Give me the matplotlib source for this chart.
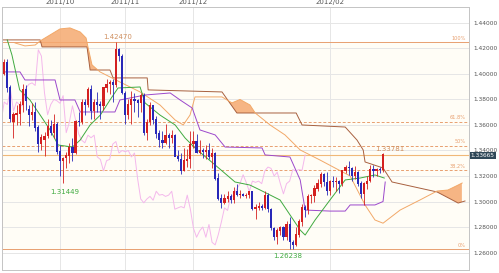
import numpy as np
import matplotlib
matplotlib.use("Agg")
import matplotlib.pyplot as plt

# daily candles, EUR/USD (bar index 0 = first visible day)
opens = [1.4000,1.4090,1.3890,1.3620,1.3680,1.3690,1.3760,1.3880,1.3720,1.3680,
         1.3700,1.3580,1.3450,1.3480,1.3510,1.3590,1.3540,1.3600,1.3390,1.3320,
         1.3340,1.3360,1.3420,1.3380,1.3630,1.3620,1.3780,1.3760,1.3880,1.3710,
         1.3780,1.3760,1.3750,1.3890,1.3920,1.3930,1.3910,1.4190,1.4140,1.3850,
         1.3680,1.3760,1.3800,1.3790,1.3770,1.3830,1.3540,1.3620,1.3750,1.3640,
         1.3530,1.3480,1.3460,1.3520,1.3500,1.3520,1.3350,1.3330,1.3240,1.3320,
         1.3330,1.3450,1.3470,1.3380,1.3400,1.3390,1.3400,1.3350,1.3380,1.3180,
         1.3020,1.2990,1.3020,1.3040,1.3010,1.3080,1.3050,1.3055,1.3040,1.3050,
         1.3080,1.2940,1.2950,1.2960,1.2950,1.3050,1.2940,1.2790,1.2720,1.2770,
         1.2800,1.2720,1.2820,1.2680,1.2660,1.2740,1.2840,1.2950,1.2930,1.3040,
         1.3040,1.3100,1.3140,1.3210,1.3150,1.3080,1.3160,1.3150,1.3160,1.3140,
         1.3240,1.3270,1.3260,1.3200,1.3230,1.3140,1.3060,1.3140,1.3160,1.3250,
         1.3240,1.3250,1.3245]
highs = [1.4120,1.4120,1.3910,1.3700,1.3760,1.3790,1.3920,1.3910,1.3760,1.3770,
         1.3780,1.3600,1.3530,1.3545,1.3650,1.3640,1.3690,1.3620,1.3440,1.3350,
         1.3390,1.3460,1.3500,1.3640,1.3700,1.3800,1.3800,1.3900,1.3910,1.3800,
         1.3860,1.3790,1.3900,1.3960,1.3950,1.3960,1.4247,1.4200,1.4160,1.3870,
         1.3800,1.3870,1.3850,1.3800,1.3850,1.3850,1.3650,1.3780,1.3760,1.3670,
         1.3560,1.3550,1.3610,1.3540,1.3560,1.3530,1.3400,1.3380,1.3420,1.3410,
         1.3550,1.3550,1.3530,1.3480,1.3420,1.3440,1.3460,1.3420,1.3390,1.3220,
         1.3060,1.3060,1.3080,1.3060,1.3110,1.3140,1.3090,1.3070,1.3070,1.3080,
         1.3080,1.2980,1.3000,1.2980,1.3080,1.3070,1.2950,1.2800,1.2790,1.2810,
         1.2810,1.2850,1.2880,1.2700,1.2800,1.2860,1.2980,1.2970,1.3060,1.3060,
         1.3130,1.3180,1.3230,1.3220,1.3230,1.3170,1.3200,1.3190,1.3170,1.3250,
         1.3290,1.3320,1.3270,1.3280,1.3240,1.3160,1.3150,1.3200,1.3290,1.3290,
         1.3260,1.3270,1.33781]
lows = [1.3990,1.3860,1.3620,1.3495,1.3600,1.3600,1.3700,1.3720,1.3590,1.3640,
        1.3550,1.3385,1.3400,1.3360,1.3500,1.3520,1.3500,1.3370,1.3200,1.31449,
        1.3260,1.3300,1.3320,1.3370,1.3590,1.3610,1.3680,1.3740,1.3650,1.3650,
        1.3700,1.3650,1.3720,1.3860,1.3840,1.3780,1.3900,1.4100,1.3840,1.3610,
        1.3650,1.3610,1.3700,1.3660,1.3700,1.3520,1.3480,1.3600,1.3610,1.3500,
        1.3430,1.3420,1.3450,1.3420,1.3460,1.3360,1.3320,1.3212,1.3240,1.3270,
        1.3260,1.3420,1.3380,1.3370,1.3340,1.3330,1.3330,1.3260,1.3170,1.3010,
        1.2950,1.2980,1.3000,1.2990,1.2990,1.3040,1.3030,1.3040,1.3030,1.3030,
        1.2930,1.2860,1.2930,1.2930,1.2940,1.2920,1.2780,1.2700,1.2670,1.2740,
        1.2700,1.2700,1.2630,1.26238,1.2650,1.2720,1.2810,1.2880,1.2900,1.2990,
        1.3000,1.3080,1.3110,1.3120,1.3050,1.3050,1.3110,1.3080,1.3070,1.3120,
        1.3220,1.3210,1.3160,1.3180,1.3120,1.3030,1.2973,1.3100,1.3150,1.3190,
        1.3200,1.3220,1.3230]
closes = [1.4090,1.3890,1.3650,1.3680,1.3690,1.3760,1.3880,1.3790,1.3680,1.3700,
          1.3580,1.3450,1.3500,1.3510,1.3590,1.3540,1.3600,1.3390,1.3320,1.3340,
          1.3360,1.3420,1.3380,1.3630,1.3620,1.3780,1.3760,1.3880,1.3710,1.3780,
          1.3760,1.3750,1.3890,1.3920,1.3930,1.3910,1.4190,1.4140,1.3850,1.3680,
          1.3760,1.3800,1.3790,1.3770,1.3830,1.3540,1.3620,1.3750,1.3640,1.3530,
          1.3480,1.3460,1.3520,1.3500,1.3520,1.3350,1.3330,1.3240,1.3320,1.3330,
          1.3450,1.3470,1.3380,1.3400,1.3390,1.3400,1.3350,1.3380,1.3180,1.3020,
          1.2990,1.3020,1.3040,1.3010,1.3080,1.3050,1.3055,1.3040,1.3050,1.3080,
          1.2940,1.2950,1.2960,1.2950,1.3050,1.2940,1.2790,1.2720,1.2770,1.2800,
          1.2720,1.2820,1.2680,1.2660,1.2740,1.2840,1.2950,1.2930,1.3040,1.3045,
          1.3100,1.3140,1.3210,1.3150,1.3080,1.3160,1.3150,1.3160,1.3140,1.3240,
          1.3270,1.3260,1.3200,1.3230,1.3140,1.3060,1.3140,1.3160,1.3250,1.3240,
          1.3250,1.3245,1.33665]

# ichimoku lines: (bar index, price)
tenkan_x = [1,2.5,5,8.3,11.6,14.8,17.4,22,24.5,27.7,31,34.1,36.7,43.8,45.4,50.2,55.1,58.3,61.5,68,74.4,79.2,82.5,88.9,95.4,97,100.2,105,109.9,114.7,119.5,122.5]
tenkan_y = [1.4267,1.4149,1.3875,1.3796,1.3678,1.3561,1.3443,1.3427,1.3482,1.3600,1.3678,1.3796,1.3890,1.3898,1.3773,1.3678,1.3600,1.3498,1.3420,1.3286,1.3153,1.3129,1.3090,1.3012,1.2776,1.2737,1.2855,1.3012,1.3169,1.3184,1.3208,1.3184]
kijun_x = [0.3,5.1,6.7,16.4,18,22.8,24.5,35.7,37.3,45.4,53.5,56.7,60.6,63.1,68,71.2,83.1,84.1,92.1,95.4,97,105,109.9,111.5,119.5,122.1,122.8]
kijun_y = [1.4016,1.4016,1.3953,1.3953,1.3796,1.3796,1.3702,1.3702,1.3796,1.3835,1.3851,1.3796,1.3733,1.3561,1.3522,1.3427,1.3420,1.3365,1.3349,1.3169,1.2933,1.2925,1.2925,1.2973,1.2973,1.3000,1.3153]
span_b_x = [-0.7,11.6,12.2,26.7,27.7,34.1,35.1,46.1,46.4,70.2,75,94.1,96,109.9,113.7,115.7,116.3,122.1,125,139.5,146.3,148.5]
span_b_y = [1.4267,1.4267,1.4212,1.4212,1.4031,1.4031,1.3969,1.3969,1.3875,1.3859,1.3694,1.3694,1.3600,1.3584,1.3482,1.3404,1.3310,1.3263,1.3153,1.3075,1.2988,1.3004]
span_a_x = [3.5,6.7,10,11.6,14.8,18,21.2,24.5,26.4,27,28.3,30.9,37.3,43.8,50.2,55.1,57.7,59.9,61.5,70.2,73.4,76,79.2,80.9,85.7,90.5,95.4,101.8,111.5,116.3,119.5,122.1,127.6,134,139.5,143,146.3,147.6]
span_a_y = [1.4243,1.4220,1.4227,1.4259,1.4306,1.4353,1.4361,1.4329,1.4282,1.4212,1.4071,1.4016,1.3937,1.3859,1.3757,1.3639,1.3600,1.3678,1.3820,1.3820,1.3773,1.3800,1.3757,1.3694,1.3600,1.3522,1.3404,1.3325,1.3200,1.2973,1.2855,1.2830,1.2933,1.3012,1.3082,1.3090,1.3129,1.3145]
chikou_shift = 25

fib_levels = [0.0, 0.382, 0.5, 0.618, 1.0]
fib_labels = ["0%", "38.2%", "50%", "61.8%", "100%"]
fib_low, fib_high = 1.26238, 1.42470
last_price = 1.33665

month_pos = [18, 39, 61, 105]
month_labels = ["2011/10", "2011/11", "2011/12", "2012/02"]
yticks = [1.26, 1.28, 1.30, 1.32, 1.34, 1.36, 1.38, 1.40, 1.42, 1.44]

fig = plt.figure(figsize=(4.99, 2.73), dpi=100)
ax = fig.add_axes([2/499, 3/273, 467/499, 263/273])
ax.set_xlim(-0.7, 149.8)
ax.set_ylim(1.2463, 1.4525)

ax.set_yticks(yticks)
ax.set_yticklabels(["%.5f" % t for t in yticks])
ax.yaxis.tick_right()
ax.set_xticks(month_pos)
ax.set_xticklabels(month_labels)
ax.xaxis.tick_top()
ax.tick_params(length=0, labelsize=4.2, colors="#555555", pad=3.5)
ax.tick_params(axis="x", pad=1.5, labelsize=5)
ax.grid(True, color="#e6e6e6", linewidth=0.7)
ax.set_axisbelow(True)
for sp in ax.spines.values():
    sp.set_color("#c4c4c4")
    sp.set_linewidth(0.7)

# fibonacci box
ax.axhspan(fib_low, fib_high, color="#fffdf6", zorder=0)
ax.plot([-0.55, -0.55], [fib_low, fib_high], color="#c8a088", lw=0.7, zorder=1)
for lv, lb in zip(fib_levels, fib_labels):
    p = fib_low + lv * (fib_high - fib_low)
    ls = "-" if lv in (0.0, 1.0) else (0, (3, 2))
    ax.axhline(p, color="#e8a070", lw=0.7, ls=ls, zorder=1)
    ax.text(148.8, p + 0.0012, lb, color="#e8a070", fontsize=3.6, ha="right", va="bottom")
ax.axhline(last_price, color="#f0b878", lw=0.8, zorder=1)

# cloud
ax.plot(span_b_x, span_b_y, color="#a8603f", lw=0.7, zorder=2)
ax.plot(span_a_x, span_a_y, color="#f2a868", lw=0.7, zorder=2)
grid_x = np.linspace(-0.7, 148.5, 600)
ga = np.interp(grid_x, span_a_x, span_a_y, left=np.nan, right=np.nan)
gb = np.interp(grid_x, span_b_x, span_b_y, left=np.nan, right=np.nan)
ax.fill_between(grid_x, ga, gb, where=ga > gb, color="#f5a970", alpha=0.85, lw=0, zorder=1.5)

# chikou (close shifted back)
idx = np.arange(len(closes))
ax.plot(idx - chikou_shift, closes, color="#f4b8ec", lw=0.7, zorder=2)
ax.plot(kijun_x, kijun_y, color="#9c48cc", lw=0.7, zorder=3)
ax.plot(tenkan_x, tenkan_y, color="#40aa40", lw=0.7, zorder=3)

# candles
o = np.array(opens); c = np.array(closes); h = np.array(highs); l = np.array(lows)
up = c >= o
cols = np.where(up, "#d42020", "#2828b8")
ax.vlines(idx, l, h, colors=cols, lw=0.6, zorder=4)
ax.bar(idx, np.abs(c - o) + 0.0004, bottom=np.minimum(o, c), width=0.7, color=cols, lw=0, zorder=5)

# annotations
ax.text(36.5, fib_high + 0.002, "1.42470", color="#d09060", fontsize=5, ha="center", va="bottom")
ax.text(19.5, 1.3100, "1.31449", color="#40aa40", fontsize=5, ha="center", va="top")
ax.text(91.5, 1.2595, "1.26238", color="#40aa40", fontsize=5, ha="center", va="top")
ax.text(119.5, 1.33781 + 0.001, "1.33781", color="#d09060", fontsize=5, ha="left", va="bottom")
ax.text(1.004, last_price - 0.0008, "1.33665", transform=ax.get_yaxis_transform(), color="white", fontsize=4.2,
        ha="left", va="center", bbox=dict(boxstyle="square,pad=0.2", fc="#2f4858", ec="none"))

fig.savefig("out.png", dpi=100)
